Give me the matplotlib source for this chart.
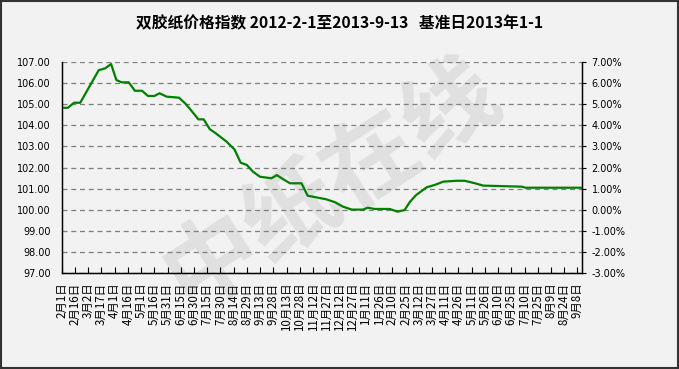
import datetime as dt
import matplotlib
matplotlib.use("Agg")
import matplotlib.pyplot as plt
from matplotlib.ticker import FuncFormatter, MultipleLocator
from matplotlib.patches import Rectangle

# index values (base 2013-1-1 = 100)
dates = [
    "2012-02-01", "2012-02-08", "2012-02-15", "2012-02-22", "2012-03-14",
    "2012-03-21", "2012-03-28", "2012-04-03", "2012-04-09", "2012-04-17",
    "2012-04-24", "2012-05-02", "2012-05-09", "2012-05-16", "2012-05-22",
    "2012-05-30", "2012-06-13", "2012-06-20", "2012-06-25", "2012-07-01",
    "2012-07-05", "2012-07-11", "2012-07-18", "2012-07-24", "2012-08-06",
    "2012-08-15", "2012-08-22", "2012-08-29", "2012-09-05", "2012-09-13",
    "2012-09-26", "2012-10-02", "2012-10-09", "2012-10-17", "2012-10-30",
    "2012-11-06", "2012-11-16", "2012-11-27", "2012-12-07", "2012-12-16",
    "2012-12-26", "2013-01-08", "2013-01-13", "2013-01-21", "2013-02-07",
    "2013-02-16", "2013-02-24", "2013-03-02", "2013-03-09", "2013-03-21",
    "2013-03-30", "2013-04-09", "2013-04-24", "2013-05-03", "2013-05-15",
    "2013-05-24", "2013-07-07", "2013-07-11", "2013-09-13",
]
values = [
    104.84, 104.84, 105.08, 105.08, 106.63,
    106.71, 106.92, 106.16, 106.05, 106.05,
    105.65, 105.65, 105.40, 105.40, 105.53,
    105.37, 105.32, 105.05, 104.81, 104.50,
    104.29, 104.29, 103.82, 103.65, 103.23,
    102.86, 102.23, 102.12, 101.80, 101.56,
    101.49, 101.64, 101.45, 101.25, 101.25,
    100.66, 100.58, 100.49, 100.35, 100.14,
    100.00, 100.00, 100.09, 100.03, 100.03,
    99.90, 99.98, 100.37, 100.69, 101.06,
    101.17, 101.33, 101.37, 101.37, 101.25,
    101.14, 101.09, 101.04, 101.04,
]
start_date = "2012-02-01"
end_date = "2013-09-13"
tick_step_days = 15
title = "双胶纸价格指数 2012-2-1至2013-9-13   基准日2013年1-1"

x = [dt.datetime.strptime(d, "%Y-%m-%d") for d in dates]
x0 = dt.datetime.strptime(start_date, "%Y-%m-%d")
x1 = dt.datetime.strptime(end_date, "%Y-%m-%d")
ticks = []
t = x0
while t <= x1:
    ticks.append(t)
    t += dt.timedelta(days=tick_step_days)

fig = plt.figure(figsize=(6.79, 3.69), dpi=100)
fig.patch.set_facecolor("#f2f2f2")
fig.patches.append(Rectangle((0.001, 0.002), 0.997, 0.995, transform=fig.transFigure,
                             fill=False, edgecolor="#333333", linewidth=1.5))

# faint watermark
fig.text(0.49, 0.50, "中纸在线", fontsize=68, color="#e0e0e0", rotation=33,
         ha="center", va="center", family="Noto Sans CJK SC", fontweight="bold", zorder=-5)

ax = fig.add_axes([0.0909, 0.261, 0.766, 0.570])
ax.patch.set_alpha(0)
ax.plot(x, values, color="#008000", linewidth=1.6, zorder=3)

ax.set_xlim(x0, x1)
ax.set_ylim(97, 107)
ax.yaxis.set_major_locator(MultipleLocator(1))
ax.yaxis.set_major_formatter(FuncFormatter(lambda v, p: "%.2f" % v))
ax.grid(axis="y", linestyle=(0, (4, 3)), color="#808080", linewidth=0.9)
ax.spines["top"].set_visible(False)
for s in ("left", "bottom", "right"):
    ax.spines[s].set_linewidth(1.0)

ax.set_xticks(ticks)
ax.set_xticklabels(["%d月%d日" % (d.month, d.day) for d in ticks], rotation=90,
                   fontsize=8.3, family=["Noto Sans CJK SC", "DejaVu Sans"])
ax.tick_params(axis="x", direction="in", length=4, pad=7)
ax.tick_params(axis="y", length=0, labelsize=7, pad=8)

ax2 = ax.twinx()
ax2.set_ylim(-3, 7)
ax2.yaxis.set_major_locator(MultipleLocator(1))
ax2.yaxis.set_major_formatter(FuncFormatter(lambda v, p: "%.2f%%" % v))
ax2.tick_params(axis="y", length=3, labelsize=7, pad=4)
ax2.spines["top"].set_visible(False)

fig.text(0.5, 0.937, title, ha="center", va="center", fontsize=11.3, fontweight="bold",
         family=["Noto Sans CJK SC", "DejaVu Sans"])

fig.savefig("out.png", dpi=100, facecolor=fig.get_facecolor())
